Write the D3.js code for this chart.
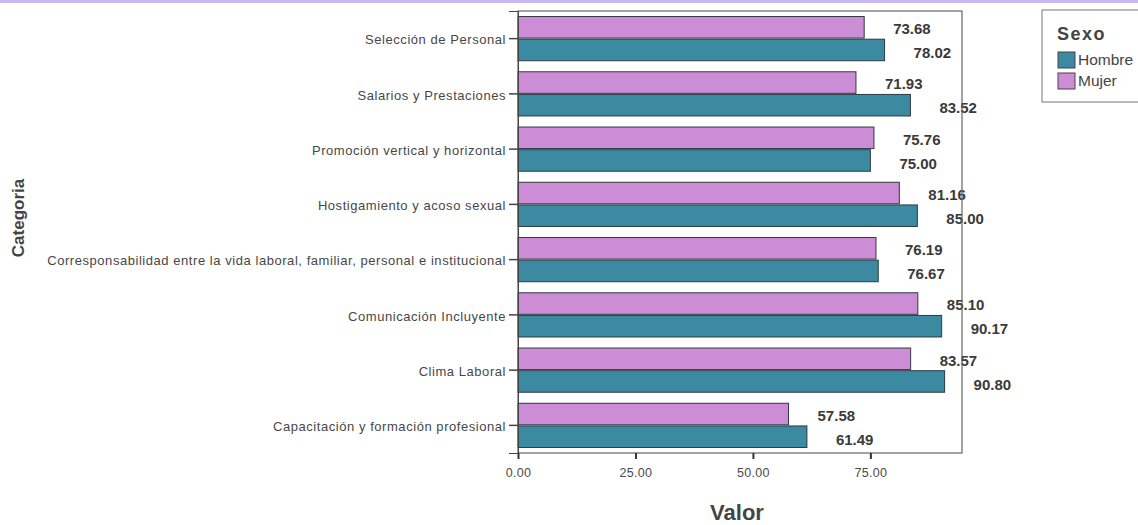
<!DOCTYPE html>
<html><head><meta charset="utf-8">
<script src="https://cdn.jsdelivr.net/npm/d3@7"></script>
<style>body{margin:0;background:#fff}svg{display:block}</style>
</head><body>
<svg id="c" width="1138" height="525"></svg>
<script>
const categories = [
  "Selección de Personal",
  "Salarios y Prestaciones",
  "Promoción vertical y horizontal",
  "Hostigamiento y acoso sexual",
  "Corresponsabilidad entre la vida laboral, familiar, personal e institucional",
  "Comunicación Incluyente",
  "Clima Laboral",
  "Capacitación y formación profesional"
];
const series = ["Mujer", "Hombre"];
const hombre = [78.02, 83.52, 75.00, 85.00, 76.67, 90.17, 90.80, 61.49];
const mujer  = [73.68, 71.93, 75.76, 81.16, 76.19, 85.10, 83.57, 57.58];
const xTicks = [0, 25, 50, 75];
const legendItems = ["Hombre", "Mujer"];

const colors = {Hombre: "#3b8aa2", Mujer: "#cc8cd6"};
const svg = d3.select("#c");
const font = "'Liberation Sans', Arial, sans-serif";

// top lavender band
svg.append("rect").attr("x",0).attr("y",0).attr("width",1138).attr("height",3).attr("fill","#c6b8f4");

const pLeft = 518, pRight = 962, pTop = 11, pBottom = 453;
const x = d3.scaleLinear().domain([0, 94.5]).range([pLeft, pRight]);
const y = d3.scaleBand().domain(categories).range([pTop, pBottom]).paddingInner(0.2).paddingOuter(0.1);
const ySub = d3.scaleBand().domain(series).range([0, y.bandwidth()]).paddingInner(0.05);

const rows = categories.map((c,i) => ({cat:c, vals:[{s:"Mujer", v:mujer[i]}, {s:"Hombre", v:hombre[i]}]}));

const g = svg.append("g");
const rowG = g.selectAll("g.row").data(rows).join("g").attr("class","row")
  .attr("transform", d => `translate(0,${y(d.cat)})`);

rowG.selectAll("rect").data(d => d.vals).join("rect")
  .attr("x", x(0)).attr("y", d => ySub(d.s))
  .attr("width", d => x(d.v) - x(0)).attr("height", ySub.bandwidth())
  .attr("fill", d => colors[d.s]).attr("stroke", "#2e3b40").attr("stroke-width", 1);

rowG.selectAll("text").data(d => d.vals).join("text")
  .attr("x", d => x(d.v) + 29)
  .attr("y", d => ySub(d.s) + ySub.bandwidth()/2 + (d.s === "Hombre" ? 3 : 1.5))
  .attr("dy", "0.35em")
  .attr("font-family", font).attr("font-weight", "bold").attr("font-size", 15)
  .attr("fill", "#3a3a3a")
  .text(d => d.v.toFixed(2));

// frame
svg.append("rect").attr("x", pLeft).attr("y", pTop).attr("width", pRight-pLeft).attr("height", pBottom-pTop)
  .attr("fill","none").attr("stroke","#666").attr("stroke-width",1.2);

// y axis
const yAxis = svg.append("g").attr("transform", `translate(${pLeft},0)`)
  .call(d3.axisLeft(y).tickSize(9).tickPadding(3));
yAxis.select(".domain").attr("stroke","#444");
yAxis.selectAll(".tick line").attr("stroke","#444").attr("stroke-width",1.5);
yAxis.selectAll(".tick text").attr("font-family", font).attr("font-size", 13)
  .attr("letter-spacing", 0.55).attr("fill","#474747").attr("dy","0.45em");

// x axis
const xAxis = svg.append("g").attr("transform", `translate(0,${pBottom})`)
  .call(d3.axisBottom(x).tickValues(xTicks).tickFormat(d3.format(".2f")).tickSize(6).tickPadding(9));
xAxis.select(".domain").remove();
xAxis.selectAll(".tick line").attr("stroke","#333").attr("stroke-width",2);
xAxis.selectAll(".tick text").attr("font-family", font).attr("font-size", 12.5)
  .attr("letter-spacing", 0.3).attr("fill","#4a4a4a");

// axis titles
svg.append("text").attr("x", 737).attr("y", 520).attr("text-anchor","middle")
  .attr("font-family", font).attr("font-weight","bold").attr("font-size", 22).attr("fill","#444").text("Valor");
svg.append("text").attr("transform","translate(24,218) rotate(-90)").attr("text-anchor","middle")
  .attr("font-family", font).attr("font-weight","bold").attr("font-size", 17).attr("fill","#444").text("Categoria");

// legend
const lg = svg.append("g");
lg.append("rect").attr("x",1042).attr("y",10).attr("width",110).attr("height",92)
  .attr("fill","#fff").attr("stroke","#777").attr("stroke-width",1);
lg.append("text").attr("x",1057).attr("y",40).attr("font-family", font).attr("font-weight","bold")
  .attr("font-size",18).attr("fill","#444").attr("letter-spacing",1.5).text("Sexo");
const li = lg.selectAll("g.li").data(legendItems).join("g").attr("class","li")
  .attr("transform",(d,i)=>`translate(1058,${52 + i*21})`);
li.append("rect").attr("width",17).attr("height",16).attr("fill", d => colors[d]).attr("stroke","#444");
li.append("text").attr("x",20).attr("y",8).attr("dy","0.35em").attr("font-family", font)
  .attr("font-size",15.5).attr("fill","#444").text(d => d);
</script>
</body></html>
